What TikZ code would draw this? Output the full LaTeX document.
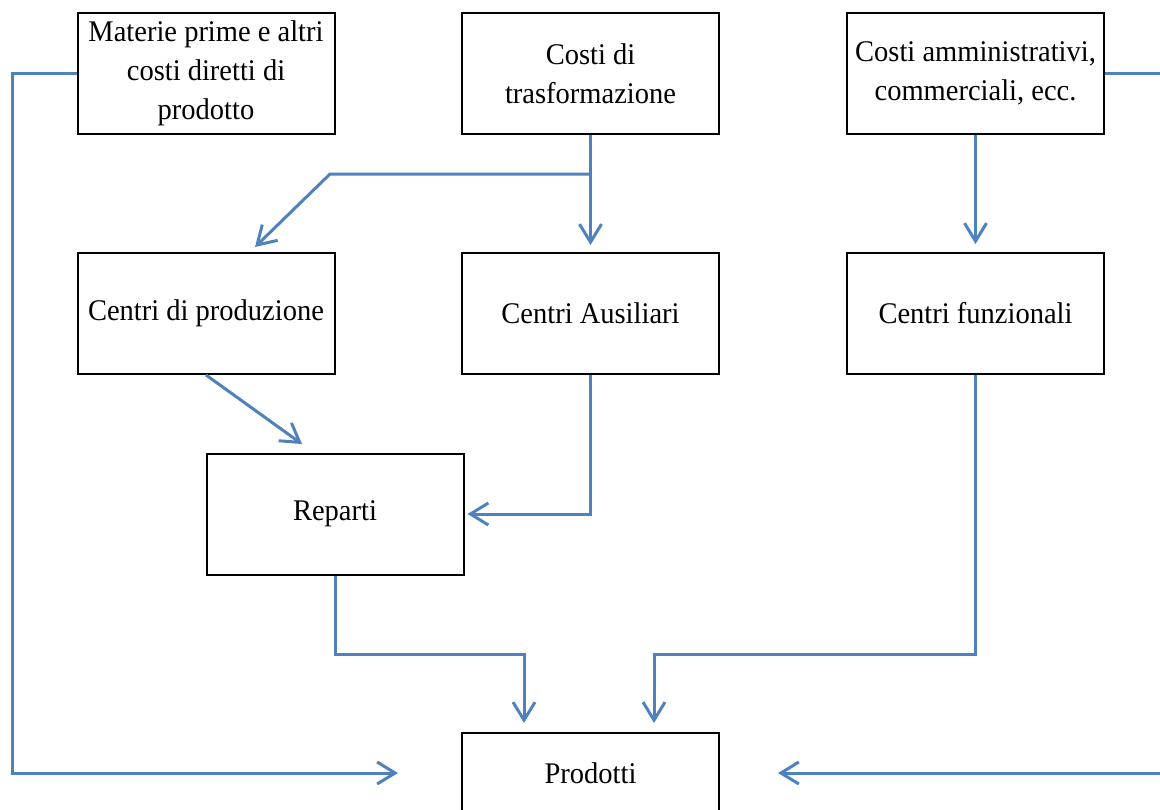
\documentclass[tikz,border=0pt]{standalone}
\usepackage{fontspec}
\setmainfont{Liberation Serif}[FakeStretch=0.95]
\usetikzlibrary{arrows.meta}

\definecolor{flowblue}{HTML}{4F81BD}

\tikzset{
    box/.style={draw=black, line width=1pt, minimum width=128.5pt, minimum height=60.5pt,
        align=center, inner sep=1pt, font=\fontsize{15}{19.5}\selectfont},
    flow/.style={flowblue, line width=1.5pt, -{Straight Barb[length=9pt, width=11pt, line width=1.5pt]}}
}

\begin{document}
\begin{tikzpicture}[x=0.5pt, y=-0.5pt]
    \useasboundingbox (0,0) rectangle (1160,809);
    \clip (0,0) rectangle (1160,809);

    % Draw the boxes
    \node[box] (mat) at (206,73.5) {Materie prime e altri\\costi diretti di\\prodotto};
    \node[box] (tras) at (590.5,73.5) {Costi di\\trasformazione};
    \node[box] (amm) at (975.5,73.5) {Costi amministrativi,\\commerciali, ecc.};
    \node[box] (prod) at (206,313.5) {Centri di produzione};
    \node[box] (aus) at (590.5,313.5) {Centri Ausiliari};
    \node[box] (funz) at (975.5,313.5) {Centri funzionali};
    \node[box] (rep) at (335,514) {Reparti};
    \node[box, minimum height=40pt] (prodotti) at (590.5,773) {Prodotti};

    % Bends and free ends of the connectors
    \coordinate (lbend) at (12,73.5);
    \coordinate (rbend) at (1180,73.5);
    \coordinate (inL) at (398,773);
    \coordinate (inR) at (778,773);
    \coordinate (split) at (590.5,174);
    \coordinate (kink) at (330,174);
    \coordinate (prodin) at (255,247);
    \coordinate (repin) at (302,444);
    \coordinate (jA) at (524,654);
    \coordinate (jB) at (654,654);
    \coordinate (inA) at (524,723);
    \coordinate (inB) at (654,723);

    % Draw the flows
    \draw[flow] (mat.west) -- (lbend) |- (inL);
    \draw[flow] (amm.east) -- (rbend) |- (inR);
    \draw[flow, shorten >=3.5pt] (tras.south) -- (aus.north);
    \draw[flow] (split) -- (kink) -- (prodin);
    \draw[flow, shorten >=4pt] (amm.south) -- (funz.north);
    \draw[flow] (prod.south) -- (repin);
    \draw[flow, shorten >=1.5pt] (aus.south) |- (rep.east);
    \draw[flow] (rep.south) |- (jA) -- (inA);
    \draw[flow] (funz.south) |- (jB) -- (inB);
\end{tikzpicture}
\end{document}
